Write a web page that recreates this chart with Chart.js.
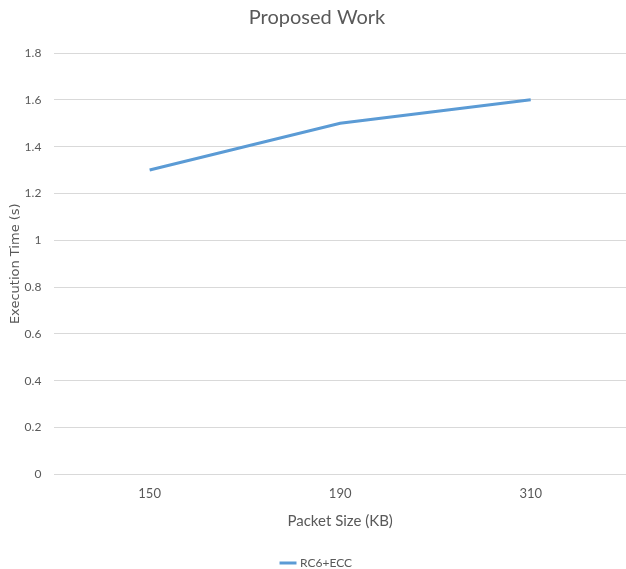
<!DOCTYPE html>
<html>
<head>
<meta charset="utf-8">
<script src="https://cdn.jsdelivr.net/npm/chart.js@4/dist/chart.umd.min.js"></script>
<style>
  html, body { margin: 0; padding: 0; background: #fff; }
  #wrap { width: 626px; height: 569px; }
</style>
</head>
<body>
<div id="wrap"><canvas id="chart"></canvas></div>
<script>
const categories = ['150', '190', '310'];
const rc6Ecc = [1.3, 1.5, 1.6];
const yTicks = [0, 0.2, 0.4, 0.6, 0.8, 1, 1.2, 1.4, 1.6, 1.8];

const face = "Lato, 'Liberation Sans', sans-serif";
const grey = '#595959';

new Chart(document.getElementById('chart'), {
  type: 'line',
  data: {
    labels: categories,
    datasets: [{
      label: 'RC6+ECC',
      data: rc6Ecc,
      borderColor: '#5b9bd5',
      backgroundColor: '#5b9bd5',
      borderWidth: 3,
      pointRadius: 0,
      tension: 0,
      fill: false
    }]
  },
  options: {
    responsive: true,
    maintainAspectRatio: false,
    animation: false,
    layout: { padding: { left: 8, right: 0, top: 4, bottom: -10 } },
    plugins: {
      title: {
        display: true,
        text: 'Proposed Work',
        color: grey,
        font: { family: face, size: 20, weight: 'normal' },
        padding: { top: 2, bottom: 23 }
      },
      legend: {
        position: 'bottom',
        labels: {
          usePointStyle: true,
          pointStyle: 'line',
          boxWidth: 20,
          color: grey,
          font: { family: face, size: 12 },
          padding: 1
        }
      },
      tooltip: { enabled: false }
    },
    scales: {
      x: {
        offset: true,
        grid: { display: false },
        border: { display: false },
        ticks: { color: grey, font: { family: face, size: 13 }, padding: 4 },
        title: {
          display: true,
          text: 'Packet Size (KB)',
          color: grey,
          font: { family: face, size: 15 },
          padding: { top: 6, bottom: 26 }
        }
      },
      y: {
        min: 0,
        max: 1.8,
        afterBuildTicks: axis => { axis.ticks = yTicks.map(v => ({ value: v })); },
        afterFit: axis => { axis.width -= 14; },
        grid: { color: '#d9d9d9', lineWidth: 1, drawTicks: false },
        border: { display: false },
        ticks: {
          color: grey,
          font: { family: face, size: 12 },
          padding: 13,
          callback: v => String(v)
        },
        title: {
          display: true,
          text: 'Execution Time (s)',
          color: grey,
          font: { family: "'DejaVu Sans', sans-serif", size: 13 },
          padding: { top: 0, bottom: 2 }
        }
      }
    }
  }
});
</script>
</body>
</html>
